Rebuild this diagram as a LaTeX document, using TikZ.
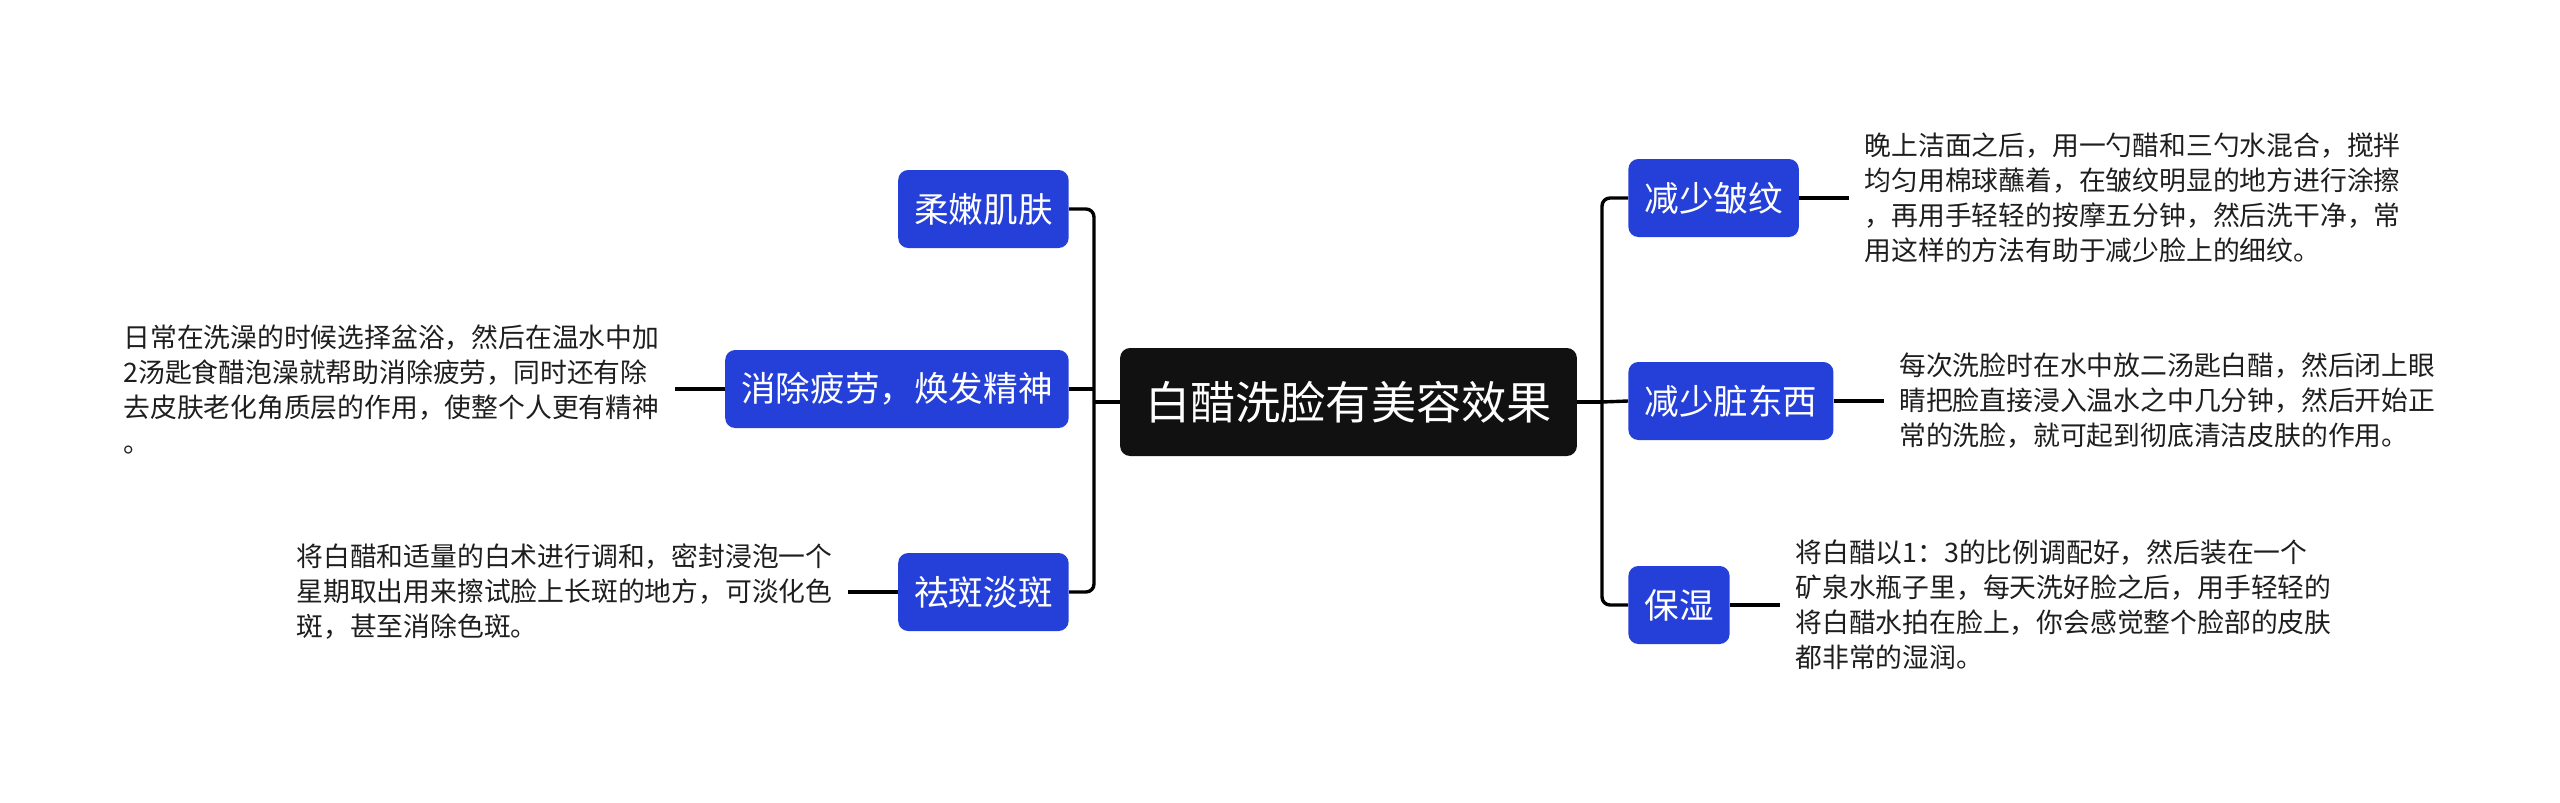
\documentclass[tikz,border=0pt]{standalone}
\usepackage{fontspec}
\setmainfont{Noto Sans CJK SC}
\usepackage{xcolor}
\usetikzlibrary{positioning}

\definecolor{topicblue}{RGB}{37,64,217}
\definecolor{rootblack}{RGB}{17,17,17}
\definecolor{notegray}{RGB}{30,30,30}

\tikzset{
  roottopic/.style={fill=rootblack, text=white, rounded corners=5pt, font=\fontsize{22.6}{26}\selectfont, inner xsep=12.5pt, minimum height=54pt},
  topic/.style={fill=topicblue, text=white, rounded corners=5pt, font=\fontsize{17.3}{20}\selectfont, inner xsep=8pt, minimum height=39pt},
  note/.style={text=notegray, font=\fontsize{13.4}{17.5}\selectfont, align=left, inner xsep=7.5pt, inner ysep=0pt},
  branch/.style={line width=1.7pt, rounded corners=4pt},
}

\begin{document}
\begin{tikzpicture}[x=0.5pt,y=0.5pt,yscale=-1,xscale=1]
\useasboundingbox (0,0) rectangle (2560,803);

% Central topic
\node [roottopic] (root) at (1348.5,402) {白醋洗脸有美容效果};
\coordinate (lefthub) at (1094,402);
\coordinate (righthub) at (1602,402);

% Left topics
\node [topic, anchor=east] (rounen) at (1069,209) {柔嫩肌肤};
\node [topic, anchor=east] (xiaochu) at (1069,389) {消除疲劳，焕发精神};
\node [topic, anchor=east] (quban) at (1069,592) {祛斑淡斑};

% Right topics
\node [topic, anchor=west] (zhouwen) at (1628,198) {减少皱纹};
\node [topic, anchor=west] (zangdongxi) at (1628,401) {减少脏东西};
\node [topic, anchor=west] (baoshi) at (1628,605) {保湿};

% Text Node
\node [note, left=25pt of xiaochu] (xiaochunote) {日常在洗澡的时候选择盆浴，然后在温水中加\\2汤匙食醋泡澡就帮助消除疲劳，同时还有除\\去皮肤老化角质层的作用，使整个人更有精神\\。};
% Text Node
\node [note, left=25pt of quban] (qubannote) {将白醋和适量的白术进行调和，密封浸泡一个\\星期取出用来擦试脸上长斑的地方，可淡化色\\斑，甚至消除色斑。};
% Text Node
\node [note, right=25pt of zhouwen] (zhouwennote) {晚上洁面之后，用一勺醋和三勺水混合，搅拌\\均匀用棉球蘸着，在皱纹明显的地方进行涂擦\\，再用手轻轻的按摩五分钟，然后洗干净，常\\用这样的方法有助于减少脸上的细纹。};
% Text Node
\node [note, right=25pt of zangdongxi] (zangdongxinote) {每次洗脸时在水中放二汤匙白醋，然后闭上眼\\睛把脸直接浸入温水之中几分钟，然后开始正\\常的洗脸，就可起到彻底清洁皮肤的作用。};
% Text Node
\node [note, right=25pt of baoshi] (baoshinote) {将白醋以1：3的比例调配好，然后装在一个\\矿泉水瓶子里，每天洗好脸之后，用手轻轻的\\将白醋水拍在脸上，你会感觉整个脸部的皮肤\\都非常的湿润。};

% Branches
\draw [branch] (root.west) -- (lefthub);
\draw [branch] (lefthub) |- (rounen.east);
\draw [branch] (xiaochu.east) -- (xiaochu.east -| lefthub);
\draw [branch] (lefthub) |- (quban.east);
\draw [branch] (root.east) -- (righthub);
\draw [branch] (righthub) |- (zhouwen.west);
\draw [branch] (righthub) -- (zangdongxi.west);
\draw [branch] (righthub) |- (baoshi.west);

% Notes
\draw [branch] (xiaochu.west) -- (xiaochunote.east);
\draw [branch] (quban.west) -- (qubannote.east);
\draw [branch] (zhouwen.east) -- (zhouwennote.west);
\draw [branch] (zangdongxi.east) -- (zangdongxinote.west);
\draw [branch] (baoshi.east) -- (baoshinote.west);
\end{tikzpicture}
\end{document}
